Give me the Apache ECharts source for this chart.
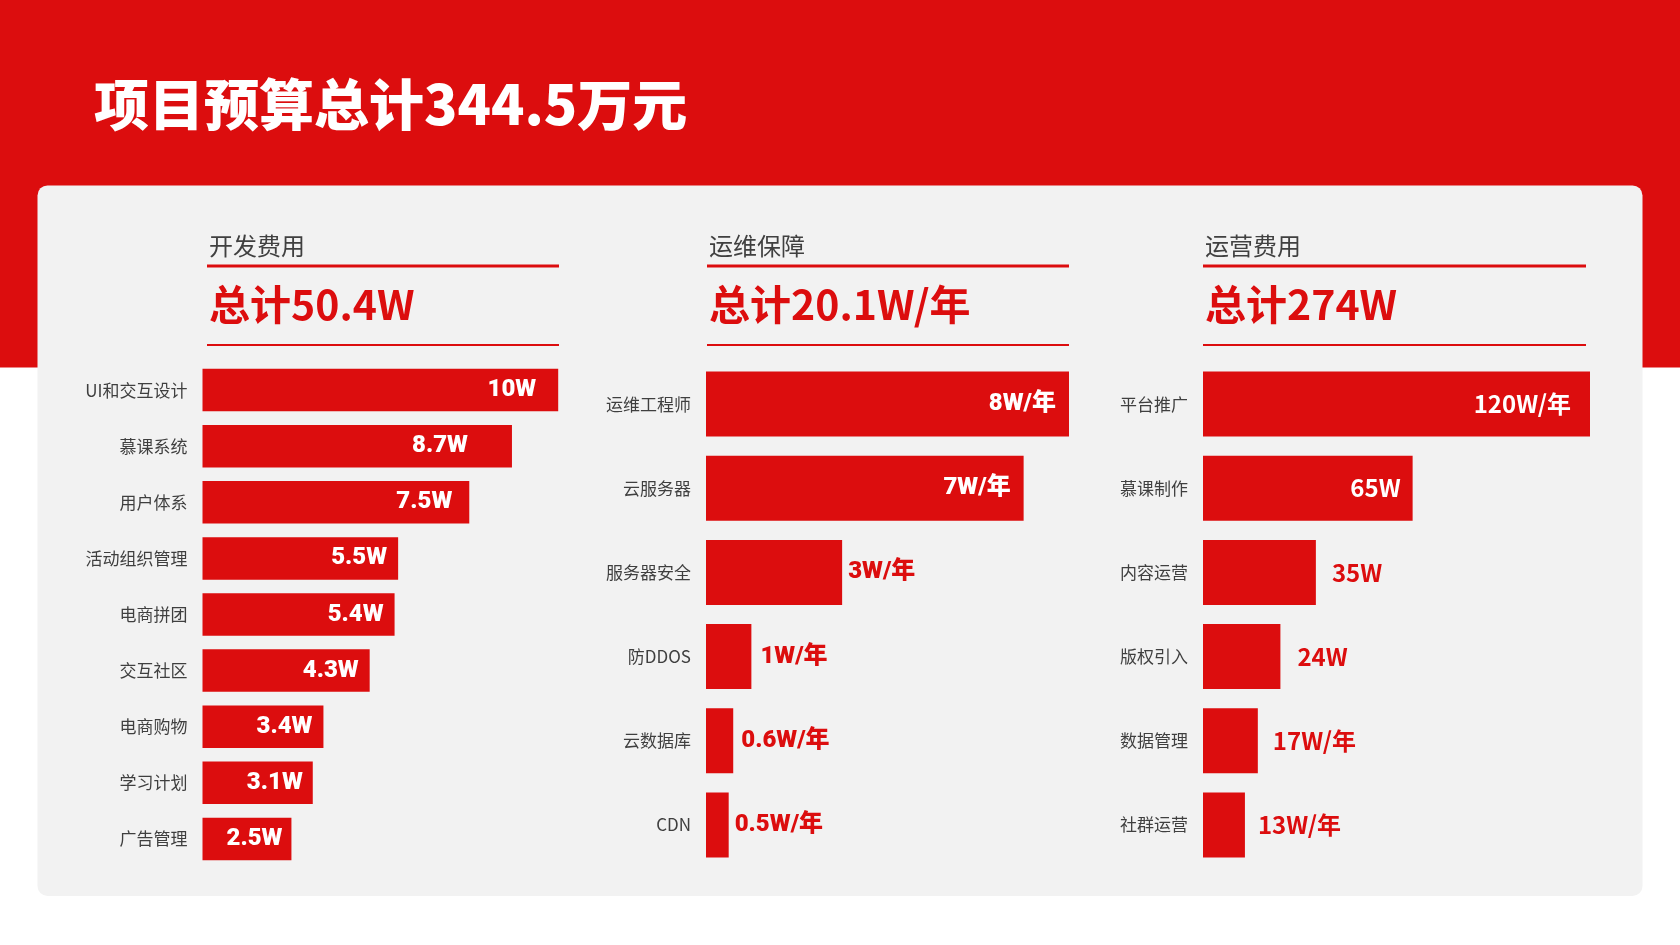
<!DOCTYPE html>
<html>
<head>
<meta charset="utf-8">
<script src="https://cdn.jsdelivr.net/npm/echarts@6/dist/echarts.min.js"></script>
<style>
html,body{margin:0;padding:0;background:#fff;}
#c{width:1680px;height:945px;}
</style>
</head>
<body>
<div id="c"></div>
<script>
// ---- data ----
const mainTitle = '项目预算总计344.5万元';

const devHeader = '开发费用';
const devTotal = '总计50.4W';
const devCats = ['UI和交互设计', '慕课系统', '用户体系', '活动组织管理', '电商拼团', '交互社区', '电商购物', '学习计划', '广告管理'];
// bar lengths as drawn in the picture (the 交互社区 bar is drawn at ~4.7 while labelled 4.3W)
const devVals = [10, 8.7, 7.5, 5.5, 5.4, 4.7, 3.4, 3.1, 2.5];
const devLabels = ['10W', '8.7W', '7.5W', '5.5W', '5.4W', '4.3W', '3.4W', '3.1W', '2.5W'];

const opsHeader = '运维保障';
const opsTotal = '总计20.1W/年';
const opsCats = ['运维工程师', '云服务器', '服务器安全', '防DDOS', '云数据库', 'CDN'];
const opsVals = [8, 7, 3, 1, 0.6, 0.5];
const opsLabels = ['8W/年', '7W/年', '3W/年', '1W/年', '0.6W/年', '0.5W/年'];

const runHeader = '运营费用';
const runTotal = '总计274W';
const runCats = ['平台推广', '慕课制作', '内容运营', '版权引入', '数据管理', '社群运营'];
const runVals = [120, 65, 35, 24, 17, 13];
const runLabels = ['120W/年', '65W', '35W', '24W', '17W/年', '13W/年'];

// ---- style / layout ----
const RED = '#dc0d0e';
const CJK = '"Noto Sans CJK SC", "Noto Sans", sans-serif';
const panels = [
  { header: devHeader, total: devTotal, cats: devCats, vals: devVals, labels: devLabels,
    left: 202.5, width: 355.7, barW: 42.5, inside: 9, font: 'Roboto, ' + CJK, weight: 900,
    gaps: [22, 44, 17, 11, 11, 11, 11, 10, 9], textX: 209, lineX: [207, 559] },
  { header: opsHeader, total: opsTotal, cats: opsCats, vals: opsVals, labels: opsLabels,
    left: 706, width: 363, barW: 65, inside: 2, font: 'Roboto, ' + CJK, weight: 900,
    gaps: [13, 13, 6, 9, 8, 6], textX: 709, lineX: [707, 1069] },
  { header: runHeader, total: runTotal, cats: runCats, vals: runVals, labels: runLabels,
    left: 1203, width: 387, barW: 65, inside: 2, font: CJK, weight: 'bold',
    gaps: [19, 12, 16, 17, 15, 13], textX: 1205, lineX: [1203, 1586] }
];
const GRID_TOP = 362, GRID_H = 505;

const chart = echarts.init(document.getElementById('c'), null, { renderer: 'canvas' });

const grids = [], xAxes = [], yAxes = [], series = [];
const graphics = [
  { type: 'rect', shape: { x: 0, y: 0, width: 1680, height: 367.5 }, style: { fill: RED }, z: -10 },
  { type: 'rect', shape: { x: 37.5, y: 185.4, width: 1605, height: 710.5, r: 10 }, style: { fill: '#f2f2f2' }, z: -9 },
  { type: 'text', x: 94, y: 104, style: { text: mainTitle, fill: '#fff', font: '900 55px ' + CJK, textVerticalAlign: 'middle' } }
];

panels.forEach((p, i) => {
  grids.push({ left: p.left, width: p.width, top: GRID_TOP, height: GRID_H, containLabel: false });
  xAxes.push({ type: 'value', gridIndex: i, min: 0, max: p.vals[0], show: false });
  yAxes.push({
    type: 'category', gridIndex: i, data: p.cats, inverse: true,
    axisLine: { show: false }, axisTick: { show: false }, splitLine: { show: false },
    axisLabel: { color: '#3f3f3f', fontSize: 17, fontFamily: CJK, margin: 15 }
  });
  series.push({
    type: 'bar', xAxisIndex: i, yAxisIndex: i, barWidth: p.barW, silent: true,
    itemStyle: { color: RED },
    data: p.vals.map((v, j) => ({
      value: v,
      label: {
        show: true,
        position: j < p.inside ? 'insideRight' : 'right',
        distance: p.gaps[j],
        color: j < p.inside ? '#fff' : RED,
        fontSize: 24, fontWeight: p.weight, fontFamily: p.font,
        formatter: () => p.labels[j]
      }
    }))
  });
  graphics.push(
    { type: 'text', x: p.textX, y: 246, style: { text: p.header, fill: '#404040', font: '24px ' + CJK, textVerticalAlign: 'middle' } },
    { type: 'line', shape: { x1: p.lineX[0], y1: 266, x2: p.lineX[1], y2: 266 }, style: { stroke: RED, lineWidth: 3 } },
    { type: 'text', x: p.textX, y: 304, style: { text: p.total, fill: RED, font: 'bold 41px ' + CJK, textVerticalAlign: 'middle' } },
    { type: 'line', shape: { x1: p.lineX[0], y1: 345, x2: p.lineX[1], y2: 345 }, style: { stroke: RED, lineWidth: 2 } }
  );
});

chart.setOption({
  backgroundColor: '#ffffff',
  animation: false,
  grid: grids,
  xAxis: xAxes,
  yAxis: yAxes,
  series: series,
  graphic: graphics
});
</script>
</body>
</html>
